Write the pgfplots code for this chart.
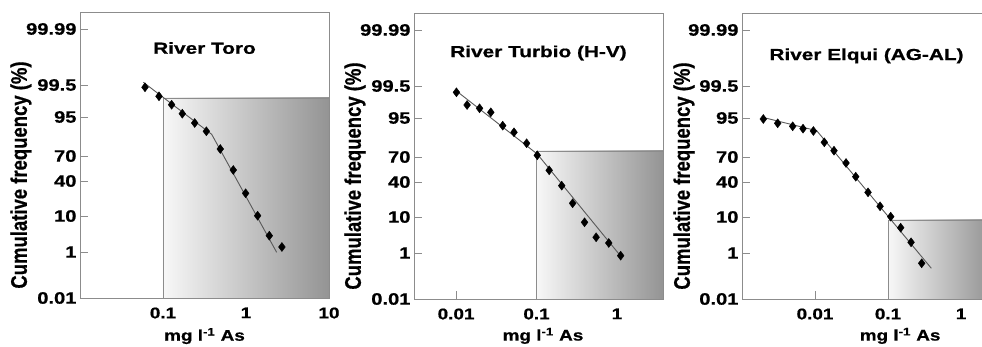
\documentclass[border=0pt]{standalone}
\usepackage{pgfplots}
\pgfplotsset{compat=1.18}
\usepackage{fontspec}
\setmainfont{Liberation Sans}[BoldFeatures={FakeBold=0.7}]
\usepackage{graphicx}
\newcommand{\W}[1]{\scalebox{1.22}[1]{\bfseries #1}}
\newcommand{\T}[1]{\scalebox{1.3}[1]{\bfseries #1}}
\newcommand{\V}[1]{\scalebox{1}[1.22]{\bfseries #1}}
\definecolor{framegray}{gray}{0.55}
\definecolor{fitgray}{gray}{0.35}
\begin{document}
\begin{tikzpicture}
% ---------------- Panel 1
\begin{axis}[xmode=log, scale only axis, width=249pt, height=286pt, clip mode=individual,
    ymin=0, ymax=286,
    ytick={0,46,82,117,142,181,213,269},
    yticklabels={\W{0.01},\W{1},\W{10},\W{40},\W{70},\W{95},\W{99.5},\W{99.99}},
    xminorticks=false, yminorticks=false,
    tick align=inside, major tick length=8pt, tick pos=left,
    axis line style={framegray, line width=0.9pt},
    tick style={framegray, line width=0.9pt},
    yticklabel style={font=\fontsize{16.5}{18}\selectfont, text=black},
    xticklabel style={font=\fontsize{15.5}{18}\selectfont, text=black, yshift=-6pt},
    at={(80pt,49pt)}, anchor=south west, xmin=0.01, xmax=10,
    xtick={0.1,1,10}, xticklabels={\W{0.1},\W{1},\W{10}}]
\addplot[draw=framegray, line width=0.6pt, left color=black!3, right color=black!42] coordinates {(0.1,200) (10,200)} \closedcycle;
\addplot[no marks, fitgray, line width=0.9pt] coordinates {(0.058,215.7) (0.386,163.7) (2.34,45.7)};
\addplot[only marks, mark=diamond*, mark size=4.5pt, black] coordinates {(0.0607,210.7) (0.0895,201.7) (0.127,193.3) (0.171,184.3)
  (0.241,175) (0.333,166.7) (0.49,149) (0.703,128) (0.99,104.7) (1.38,82.3)
  (1.91,62.3) (2.71,51)};
\node[font=\fontsize{16}{18}\selectfont] at (rel axis cs:0.5,0.874) {\T{River Toro}};
\node[font=\fontsize{15.5}{18}\selectfont] at (rel axis cs:0.5,-0.133) {\W{mg l\textsuperscript{-1} As}};
\node[rotate=90, font=\fontsize{18.5}{20}\selectfont] at (rel axis cs:-0.237,0.43) {\V{Cumulative frequency (\%)}};
\end{axis}
% ---------------- Panel 2
\begin{axis}[xmode=log, scale only axis, width=249pt, height=286pt, clip mode=individual,
    ymin=0, ymax=286,
    ytick={0,46,82,117,142,181,213,269},
    yticklabels={\W{0.01},\W{1},\W{10},\W{40},\W{70},\W{95},\W{99.5},\W{99.99}},
    xminorticks=false, yminorticks=false,
    tick align=inside, major tick length=8pt, tick pos=left,
    axis line style={framegray, line width=0.9pt},
    tick style={framegray, line width=0.9pt},
    yticklabel style={font=\fontsize{16.5}{18}\selectfont, text=black},
    xticklabel style={font=\fontsize{15.5}{18}\selectfont, text=black, yshift=-6pt},
    at={(414pt,48pt)}, anchor=south west, xmin=0.003, xmax=3.73,
    xtick={0.01,0.1,1}, xticklabels={\W{0.01},\W{0.1},\W{1}}]
\addplot[draw=framegray, line width=0.6pt, left color=black!3, right color=black!42] coordinates {(0.1,148) (3.73,148)} \closedcycle;
\addplot[no marks, fitgray, line width=0.9pt] coordinates {(0.0101,208) (0.102,145) (1.09,43.7)};
\addplot[only marks, mark=diamond*, mark size=4.5pt, black] coordinates {(0.0101,206.7) (0.0137,194) (0.0196,190.7) (0.027,186.7)
  (0.038,173.3) (0.0525,166.7) (0.0753,155.7) (0.102,143.7) (0.1435,128.7)
  (0.2055,113.3) (0.281,95.7) (0.395,76.7) (0.55,61.7) (0.79,56) (1.11,43.3)};
\node[font=\fontsize{16}{18}\selectfont] at (rel axis cs:0.5,0.86) {\T{River Turbio (H-V)}};
\node[font=\fontsize{15.5}{18}\selectfont] at (rel axis cs:0.518,-0.129) {\W{mg l\textsuperscript{-1} As}};
\node[rotate=90, font=\fontsize{18.5}{20}\selectfont] at (rel axis cs:-0.237,0.43) {\V{Cumulative frequency (\%)}};
\end{axis}
% ---------------- Panel 3
\begin{axis}[xmode=log, scale only axis, width=249pt, height=286pt, clip mode=individual,
    ymin=0, ymax=286,
    ytick={0,46,82,117,142,181,213,269},
    yticklabels={\W{0.01},\W{1},\W{10},\W{40},\W{70},\W{95},\W{99.5},\W{99.99}},
    xminorticks=false, yminorticks=false,
    tick align=inside, major tick length=8pt, tick pos=left,
    axis line style={framegray, line width=0.9pt},
    tick style={framegray, line width=0.9pt},
    yticklabel style={font=\fontsize{16.5}{18}\selectfont, text=black},
    xticklabel style={font=\fontsize{15.5}{18}\selectfont, text=black, yshift=-6pt},
    at={(742pt,48pt)}, anchor=south west, xmin=0.001, xmax=2.57,
    xtick={0.01,0.1,1}, xticklabels={\W{0.01},\W{0.1},\W{1}}]
\addplot[draw=framegray, line width=0.6pt, left color=black!3, right color=black!42] coordinates {(0.1,79) (2.57,79)} \closedcycle;
\addplot[no marks, fitgray, line width=0.9pt] coordinates {(0.00191,181.7) (0.01055,168.3) (0.392,30.7)};
\addplot[only marks, mark=diamond*, mark size=4.5pt, black] coordinates {(0.00196,180) (0.00308,175.7) (0.00494,172.7) (0.00685,170.3)
  (0.0095,168) (0.0134,156.7) (0.0182,148.3) (0.0266,136) (0.0361,122.3)
  (0.0532,106.7) (0.0777,92.7) (0.1088,82.3) (0.149,71.3) (0.2065,56.7) (0.289,35.7)};
\node[font=\fontsize{16}{18}\selectfont] at (rel axis cs:0.5,0.85) {\T{River Elqui (AG-AL)}};
\node[font=\fontsize{15.5}{18}\selectfont] at (rel axis cs:0.635,-0.129) {\W{mg l\textsuperscript{-1} As}};
\node[rotate=90, font=\fontsize{18.5}{20}\selectfont] at (rel axis cs:-0.233,0.43) {\V{Cumulative frequency (\%)}};
\end{axis}
\pgfresetboundingbox
\useasboundingbox (0,0) rectangle (982pt,347pt);
\end{tikzpicture}
\end{document}
